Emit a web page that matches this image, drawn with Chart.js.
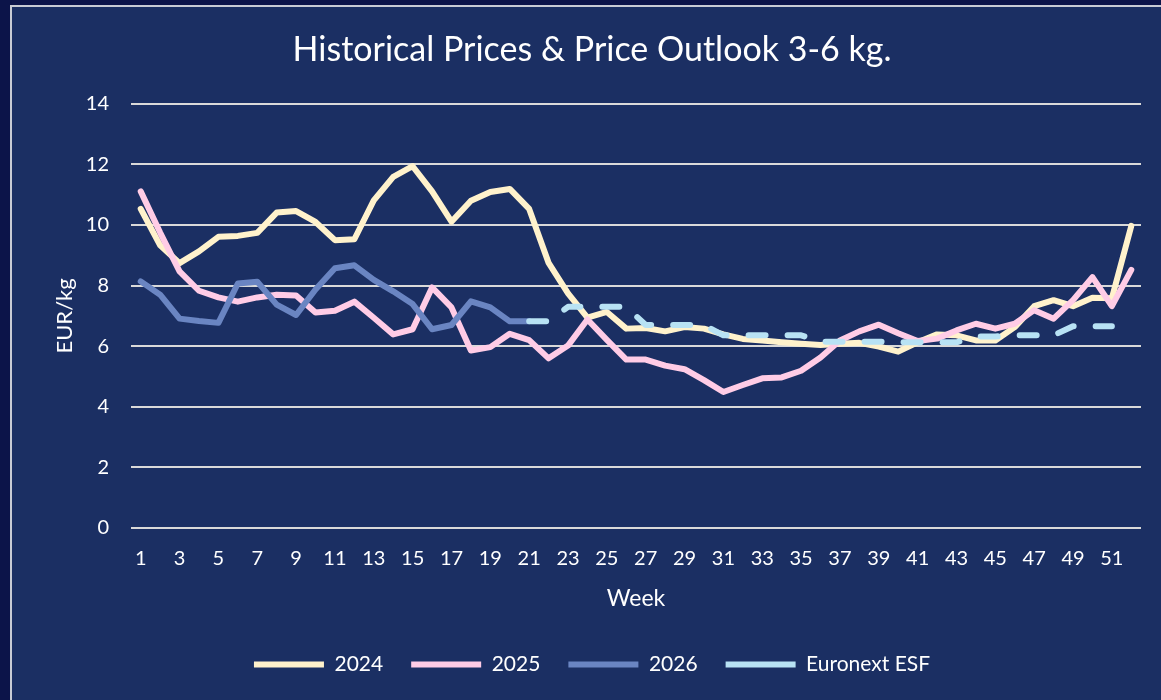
<!DOCTYPE html>
<html>
<head>
<meta charset="utf-8">
<script src="https://cdn.jsdelivr.net/npm/chart.js@4.4.1/dist/chart.umd.min.js"></script>
<style>
  html, body { margin: 0; padding: 0; background: #0c1449; overflow: hidden; }
  #wrap { width: 1161px; height: 700px; }
</style>
</head>
<body>
<div id="wrap"><canvas id="chart" width="1161" height="700"></canvas></div>
<script>
// Week numbers on the x axis
const weeks = [
  "1", "2", "3", "4", "5", "6", "7", "8", "9", "10", "11", "12", "13",
  "14", "15", "16", "17", "18", "19", "20", "21", "22", "23", "24", "25", "26",
  "27", "28", "29", "30", "31", "32", "33", "34", "35", "36", "37", "38", "39",
  "40", "41", "42", "43", "44", "45", "46", "47", "48", "49", "50", "51", "52"
];

// EUR/kg per week
const prices2024 = [
  10.53, 9.33, 8.74, 9.13, 9.61, 9.64, 9.74, 10.41, 10.46, 10.1, 9.5, 9.53, 10.81,
  11.59, 11.94, 11.11, 10.11, 10.8, 11.09, 11.19, 10.53, 8.75, 7.74, 6.94, 7.13, 6.58,
  6.6, 6.49, 6.63, 6.58, 6.39, 6.24, 6.19, 6.13, 6.08, 6.04, 6.08, 6.11, 5.99,
  5.82, 6.13, 6.39, 6.36, 6.19, 6.19, 6.63, 7.32, 7.52, 7.32, 7.6, 7.58, 9.97
];
const prices2025 = [
  11.11, 9.75, 8.47, 7.83, 7.61, 7.47, 7.61, 7.7, 7.67, 7.11, 7.17, 7.47, 6.94,
  6.39, 6.56, 7.94, 7.28, 5.86, 5.97, 6.41, 6.2, 5.6, 6.02, 6.88, 6.21, 5.56,
  5.56, 5.36, 5.24, 4.88, 4.49, 4.72, 4.94, 4.97, 5.19, 5.63, 6.19, 6.49, 6.71,
  6.43, 6.17, 6.25, 6.52, 6.74, 6.58, 6.74, 7.19, 6.91, 7.52, 8.28, 7.32, 8.52
];
const prices2026 = [
  8.14, 7.7, 6.91, 6.83, 6.77, 8.07, 8.13, 7.37, 7.03, 7.87, 8.57, 8.67, 8.19,
  7.81, 7.39, 6.56, 6.7, 7.48, 7.28, 6.82, 6.82
];
const euronextEsf = [
  null, null, null, null, null, null, null, null, null, null, null, null, null,
  null, null, null, null, null, null, null, 6.82, 6.82, 7.3, 7.3, 7.3, 7.3,
  6.7, 6.7, 6.7, 6.7, 6.36, 6.36, 6.36, 6.36, 6.36, 6.15, 6.15, 6.15, 6.15,
  6.13, 6.13, 6.13, 6.13, 6.32, 6.32, 6.36, 6.36, 6.36, 6.66, 6.66, 6.66
];

const FONT = "Lato, 'Open Sans', sans-serif";

// background + box border like the Excel chart area
const frame = {
  id: "frame",
  beforeDraw(chart) {
    const ctx = chart.ctx;
    ctx.save();
    ctx.fillStyle = "#0c1449";
    ctx.fillRect(0, 0, chart.width, chart.height);
    ctx.fillStyle = "#1b2f63";
    ctx.fillRect(11, 6, chart.width, chart.height);
    ctx.strokeStyle = "#c8cbd4";
    ctx.lineWidth = 2;
    ctx.strokeRect(11, 6, chart.width + 20, chart.height + 20);
    ctx.restore();
  }
};

const lineStyle = {
  borderWidth: 6,
  pointRadius: 0,
  pointHoverRadius: 0,
  tension: 0,
  borderCapStyle: "round",
  borderJoinStyle: "round",
  fill: false
};

const ctx = document.getElementById("chart").getContext("2d");
new Chart(ctx, {
  type: "line",
  data: {
    labels: weeks,
    datasets: [
      { ...lineStyle, label: "2024", data: prices2024, borderColor: "#fff2cc", backgroundColor: "#fff2cc", order: 4 },
      { ...lineStyle, label: "2025", data: prices2025, borderColor: "#ffcce6", backgroundColor: "#ffcce6", order: 3 },
      { ...lineStyle, label: "2026", data: prices2026, borderColor: "#6a85c2", backgroundColor: "#6a85c2", order: 2 },
      { ...lineStyle, label: "Euronext ESF", data: euronextEsf, borderColor: "#b8e2f4", backgroundColor: "#b8e2f4", borderDash: [17, 22], order: 1 }
    ]
  },
  options: {
    responsive: false,
    animation: false,
    layout: { padding: { left: 43, right: 20, top: 0, bottom: 15 } },
    plugins: {
      title: {
        display: true,
        text: "Historical Prices & Price Outlook 3-6 kg.",
        color: "#ffffff",
        font: { family: FONT, size: 34, weight: "normal" },
        padding: { top: 30, bottom: 33 }
      },
      legend: {
        position: "bottom",
        labels: {
          color: "#ffffff",
          font: { family: FONT, size: 21 },
          usePointStyle: true,
          pointStyle: "line",
          pointStyleWidth: 70,
          padding: 28,
          sort: (a, b) => a.datasetIndex - b.datasetIndex
        }
      },
      tooltip: { enabled: false }
    },
    scales: {
      x: {
        offset: true,
        grid: { display: false },
        border: { display: false },
        ticks: {
          color: "#ffffff",
          font: { family: FONT, size: 20 },
          padding: 11,
          autoSkip: false,
          maxRotation: 0,
          callback: function (value, index) {
            return index % 2 === 0 ? this.getLabelForValue(value) : "";
          }
        },
        title: {
          display: true,
          text: "Week",
          color: "#ffffff",
          font: { family: FONT, size: 23 },
          padding: { top: 0, bottom: 14 }
        },
        afterFit: (scale) => { scale.height = 98; }
      },
      y: {
        min: 0,
        max: 14,
        grid: { color: "#d9d9d9", lineWidth: 2, drawTicks: false },
        border: { display: false },
        ticks: {
          stepSize: 2,
          color: "#ffffff",
          font: { family: FONT, size: 20 },
          padding: 22
        },
        title: {
          display: true,
          text: "EUR/kg",
          color: "#ffffff",
          font: { family: FONT, size: 22 },
          padding: { top: 9, bottom: 0 }
        },
        afterFit: (scale) => { scale.width = 88; }
      }
    }
  },
  plugins: [frame]
});
</script>
</body>
</html>
